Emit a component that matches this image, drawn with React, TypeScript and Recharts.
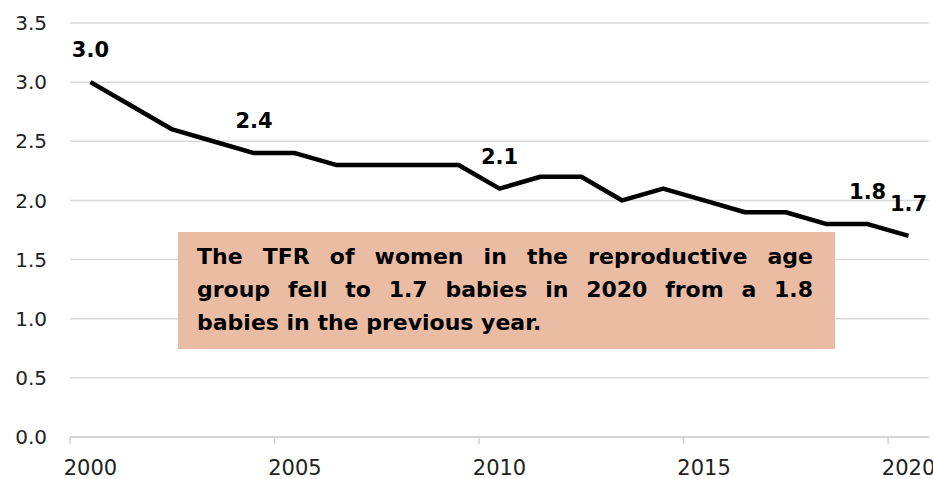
import { LineChart, Line, XAxis, YAxis, CartesianGrid, LabelList } from 'recharts';

const years = [2000, 2001, 2002, 2003, 2004, 2005, 2006, 2007, 2008, 2009, 2010, 2011, 2012, 2013, 2014, 2015, 2016, 2017, 2018, 2019, 2020];
const tfr = [3.0, 2.8, 2.6, 2.5, 2.4, 2.4, 2.3, 2.3, 2.3, 2.3, 2.1, 2.2, 2.2, 2.0, 2.1, 2.0, 1.9, 1.9, 1.8, 1.8, 1.7];
const labelledYears = [2000, 2004, 2010, 2019, 2020];
const xTicks = [2000, 2005, 2010, 2015, 2020];
const yTicks = [0, 0.5, 1, 1.5, 2, 2.5, 3, 3.5];
const note = [
  'The TFR of women in the reproductive age',
  'group fell to 1.7 babies in 2020 from a 1.8',
  'babies in the previous year.',
];

const data = years.map((year, i) => ({ year, tfr: tfr[i] }));

const W = 933;
const H = 479;
const margin = { top: 23, right: 4, bottom: 12, left: 0 };
const yAxisWidth = 70;
const plotWidth = W - margin.left - margin.right - yAxisWidth;
const band = plotWidth / years.length;
const font = "'DejaVu Sans', sans-serif";

function XTick(props: any) {
  const { x, y, payload } = props;
  return (
    <g>
      <line x1={x - band / 2} x2={x - band / 2} y1={y} y2={y + 7} stroke="#d0d0d0" strokeWidth={1.5} />
      <text x={x} y={y + 38} textAnchor="middle" fontSize={21} fill="#222" fontFamily={font}>
        {payload.value}
      </text>
    </g>
  );
}

function PointLabel(props: any) {
  const { x, y, value, index } = props;
  if (!labelledYears.includes(years[index])) return null;
  return (
    <text x={x} y={y - 25} textAnchor="middle" fontSize={21} fontWeight="bold" fill="#000" fontFamily={font}>
      {Number(value).toFixed(1)}
    </text>
  );
}

export default function App() {
  return (
    <div style={{ position: 'absolute', left: 0, top: 0, width: W, height: H, background: '#fff' }}>
      <LineChart width={W} height={H} data={data} margin={margin}>
        <CartesianGrid vertical={false} stroke="#d9d9d9" strokeWidth={1.5} />
        <XAxis
          dataKey="year"
          type="number"
          domain={[1999.5, 2020.5]}
          ticks={xTicks}
          tick={<XTick />}
          tickLine={false}
          tickSize={0}
          tickMargin={0}
          height={30}
          axisLine={{ stroke: '#d0d0d0', strokeWidth: 1.5 }}
          interval={0}
        />
        <YAxis
          domain={[0, 3.5]}
          ticks={yTicks}
          width={yAxisWidth}
          axisLine={false}
          tickLine={false}
          tickSize={0}
          tickMargin={23}
          tickFormatter={(v: number) => v.toFixed(1)}
          tick={{ fontSize: 20, fill: '#222', fontFamily: font }}
        />
        <Line
          type="linear"
          dataKey="tfr"
          stroke="#000"
          strokeWidth={4.5}
          strokeLinejoin="round"
          dot={false}
          activeDot={false}
          isAnimationActive={false}
        >
          <LabelList dataKey="tfr" content={<PointLabel />} />
        </Line>
      </LineChart>
      <div
        style={{
          position: 'absolute',
          left: 178,
          top: 232,
          width: 657,
          height: 117,
          boxSizing: 'border-box',
          padding: '8px 22px 0 19px',
          background: '#eabca3',
          fontFamily: font,
          fontWeight: 'bold',
          fontSize: 22,
          lineHeight: '33px',
          color: '#000',
        }}
      >
        {note.map((line, i) => (
          <div
            key={i}
            style={{ whiteSpace: 'nowrap', textAlign: 'justify', textAlignLast: i < note.length - 1 ? 'justify' : 'left' }}
          >
            {line}
          </div>
        ))}
      </div>
    </div>
  );
}
